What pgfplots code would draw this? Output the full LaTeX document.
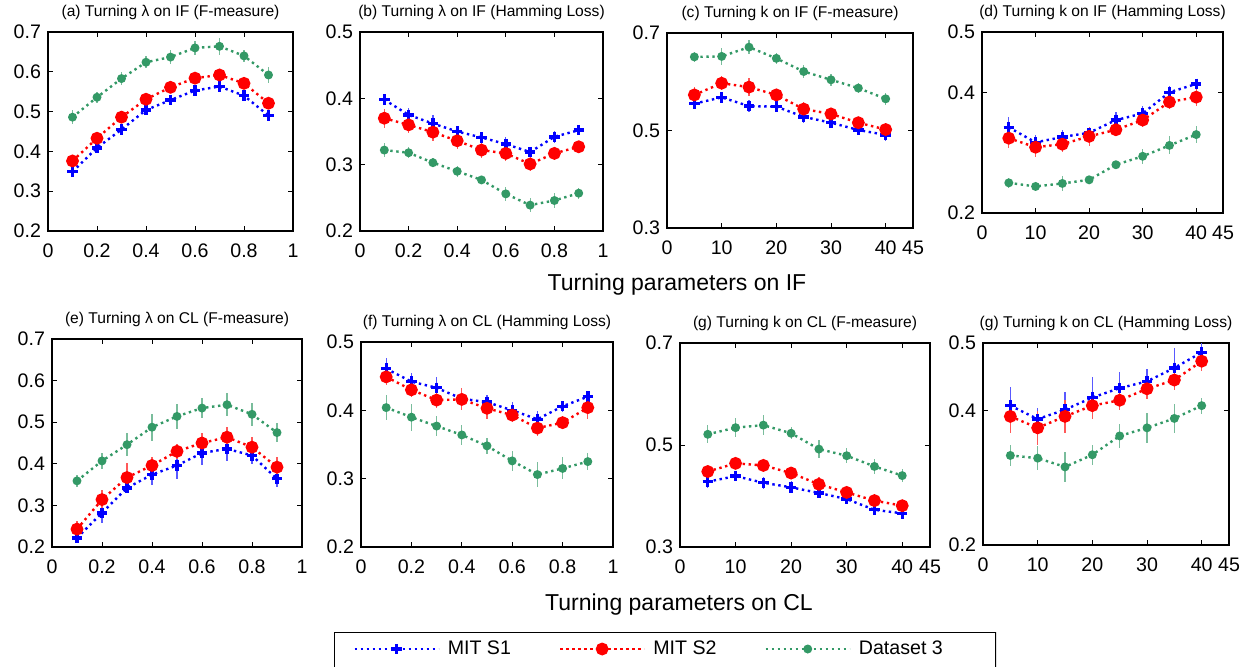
\documentclass[border=0pt]{standalone}
\usepackage{fontspec}
\setmainfont{Liberation Sans}
\usepackage{pgfplots}
\pgfplotsset{compat=1.18}
\definecolor{mblue}{HTML}{0000FF}
\definecolor{mred}{HTML}{FF0000}
\definecolor{mgreen}{HTML}{339966}

\pgfplotsset{
  every axis title/.style={at={(0.5,1)}, anchor=south, yshift=2.5pt,
    font=\fontsize{7.8}{9}\selectfont},
  panel/.style={scale only axis, anchor=south west,
    tick align=inside, major tick length=2.5pt,
    axis line style={line width=0.6pt}, every tick/.style={black, line width=0.5pt},
    ticklabel style={font=\fontsize{9.8}{11}\selectfont},
    xticklabel shift=3pt,
    /pgf/number format/assume math mode=true},
  lam/.style={xmin=0, xmax=1, xtick={0,0.2,0.4,0.6,0.8,1}},
  kk/.style={xmin=0, xmax=45, xtick={0,10,20,30,40,45}},
  s1/.style={color=mblue, line width=1.2pt, dash pattern=on 1.2pt off 1.8pt,
    mark=+, mark size=2.6pt, mark options={solid, line width=1.7pt}},
  s2/.style={color=mred, line width=1.2pt, dash pattern=on 1.2pt off 1.8pt,
    mark=*, mark size=2.6pt, mark options={solid}},
  s3/.style={color=mgreen, line width=1.2pt, dash pattern=on 1.2pt off 1.8pt,
    mark=*, mark size=1.6pt, mark options={solid}},
  eb/.style={error bars/.cd, y dir=both, y explicit, error mark=none,
    error bar style={solid, line width=0.6pt, #1!65!white}},
}

\begin{document}
\begin{tikzpicture}
\useasboundingbox (0,0) rectangle (622.5pt,333pt);

% (a)
\begin{axis}[panel, lam, at={(24pt,217.5pt)}, width=122.5pt, height=99.5pt,
  ymin=0.2, ymax=0.7, ytick={0.2,0.3,0.4,0.5,0.6,0.7},
  title={(a) Turning λ on IF (F-measure)}]
\addplot[s1, eb=mblue] table[row sep=\\, y error=e] {x y e\\
0.1 0.349 0.010\\ 0.2 0.409 0.012\\ 0.3 0.455 0.012\\ 0.4 0.504 0.012\\ 0.5 0.529 0.012\\
0.6 0.553 0.010\\ 0.7 0.563 0.012\\ 0.8 0.540 0.012\\ 0.9 0.490 0.012\\};
\addplot[s2, eb=mred] table[row sep=\\, y error=e] {x y e\\
0.1 0.376 0.012\\ 0.2 0.433 0.013\\ 0.3 0.486 0.014\\ 0.4 0.531 0.016\\ 0.5 0.561 0.014\\
0.6 0.584 0.015\\ 0.7 0.592 0.016\\ 0.8 0.571 0.014\\ 0.9 0.521 0.015\\};
\addplot[s3, eb=mgreen] table[row sep=\\, y error=e] {x y e\\
0.1 0.486 0.017\\ 0.2 0.536 0.014\\ 0.3 0.583 0.017\\ 0.4 0.624 0.015\\ 0.5 0.637 0.017\\
0.6 0.660 0.017\\ 0.7 0.664 0.022\\ 0.8 0.640 0.016\\ 0.9 0.592 0.020\\};
\end{axis}

% (b)
\begin{axis}[panel, lam, at={(180pt,217.5pt)}, width=121.5pt, height=99.5pt,
  ymin=0.2, ymax=0.5, ytick={0.2,0.3,0.4,0.5},
  title={(b) Turning λ on IF (Hamming Loss)}]
\addplot[s1, eb=mblue] table[row sep=\\, y error=e] {x y e\\
0.1 0.398 0.008\\ 0.2 0.375 0.010\\ 0.3 0.362 0.013\\ 0.4 0.350 0.009\\ 0.5 0.341 0.009\\
0.6 0.331 0.010\\ 0.7 0.319 0.008\\ 0.8 0.342 0.009\\ 0.9 0.352 0.008\\};
\addplot[s2, eb=mred] table[row sep=\\, y error=e] {x y e\\
0.1 0.370 0.014\\ 0.2 0.360 0.012\\ 0.3 0.349 0.014\\ 0.4 0.336 0.012\\ 0.5 0.322 0.012\\
0.6 0.317 0.012\\ 0.7 0.301 0.010\\ 0.8 0.317 0.010\\ 0.9 0.327 0.008\\};
\addplot[s3, eb=mgreen] table[row sep=\\, y error=e] {x y e\\
0.1 0.322 0.010\\ 0.2 0.318 0.008\\ 0.3 0.303 0.007\\ 0.4 0.290 0.008\\ 0.5 0.277 0.006\\
0.6 0.256 0.011\\ 0.7 0.239 0.011\\ 0.8 0.246 0.012\\ 0.9 0.257 0.008\\};
\end{axis}

% (c)
\begin{axis}[panel, kk, at={(333.5pt,219pt)}, width=123pt, height=97.5pt,
  ymin=0.3, ymax=0.7, ytick={0.3,0.5,0.7},
  title={(c) Turning k on IF (F-measure)}]
\addplot[s1, eb=mblue] table[row sep=\\, y error=e] {x y e\\
5 0.555 0.010\\ 10 0.568 0.010\\ 15 0.550 0.012\\ 20 0.549 0.010\\
25 0.528 0.012\\ 30 0.516 0.010\\ 35 0.501 0.010\\ 40 0.491 0.012\\};
\addplot[s2, eb=mred] table[row sep=\\, y error=e] {x y e\\
5 0.573 0.016\\ 10 0.597 0.014\\ 15 0.589 0.018\\ 20 0.573 0.012\\
25 0.544 0.014\\ 30 0.534 0.010\\ 35 0.516 0.012\\ 40 0.502 0.014\\};
\addplot[s3, eb=mgreen] table[row sep=\\, y error=e] {x y e\\
5 0.651 0.010\\ 10 0.652 0.018\\ 15 0.671 0.014\\ 20 0.648 0.012\\
25 0.621 0.014\\ 30 0.604 0.012\\ 35 0.587 0.010\\ 40 0.565 0.012\\};
\end{axis}

% (d)
\begin{axis}[panel, kk, at={(491pt,226.5pt)}, width=120.5pt, height=90.5pt,
  ymin=0.2, ymax=0.5, ytick={0.2,0.4,0.5},
  title={(d) Turning k on IF (Hamming Loss)}]
\addplot[s1, eb=mblue] table[row sep=\\, y error=e] {x y e\\
5 0.342 0.017\\ 10 0.317 0.013\\ 15 0.326 0.012\\ 20 0.333 0.010\\
25 0.354 0.013\\ 30 0.365 0.013\\ 35 0.400 0.010\\ 40 0.414 0.008\\};
\addplot[s2, eb=mred] table[row sep=\\, y error=e] {x y e\\
5 0.324 0.017\\ 10 0.309 0.016\\ 15 0.314 0.013\\ 20 0.327 0.016\\
25 0.338 0.010\\ 30 0.354 0.012\\ 35 0.384 0.012\\ 40 0.392 0.015\\};
\addplot[s3, eb=mgreen] table[row sep=\\, y error=e] {x y e\\
5 0.250 0.008\\ 10 0.244 0.007\\ 15 0.249 0.013\\ 20 0.255 0.007\\
25 0.280 0.006\\ 30 0.294 0.012\\ 35 0.312 0.015\\ 40 0.330 0.014\\};
\end{axis}

% (e)
\begin{axis}[panel, lam, at={(26pt,59.5pt)}, width=125pt, height=104pt,
  ymin=0.2, ymax=0.7, ytick={0.2,0.3,0.4,0.5,0.6,0.7},
  title={(e) Turning λ on CL (F-measure)}]
\addplot[s1, eb=mblue] table[row sep=\\, y error=e] {x y e\\
0.1 0.222 0.010\\ 0.2 0.282 0.025\\ 0.3 0.342 0.012\\ 0.4 0.374 0.024\\ 0.5 0.396 0.032\\
0.6 0.426 0.030\\ 0.7 0.436 0.030\\ 0.8 0.420 0.020\\ 0.9 0.364 0.020\\};
\addplot[s2, eb=mred] table[row sep=\\, y error=e] {x y e\\
0.1 0.243 0.020\\ 0.2 0.314 0.024\\ 0.3 0.367 0.034\\ 0.4 0.396 0.020\\ 0.5 0.430 0.018\\
0.6 0.450 0.024\\ 0.7 0.464 0.025\\ 0.8 0.440 0.025\\ 0.9 0.392 0.025\\};
\addplot[s3, eb=mgreen] table[row sep=\\, y error=e] {x y e\\
0.1 0.359 0.015\\ 0.2 0.407 0.020\\ 0.3 0.446 0.028\\ 0.4 0.488 0.032\\ 0.5 0.514 0.030\\
0.6 0.534 0.025\\ 0.7 0.542 0.028\\ 0.8 0.519 0.028\\ 0.9 0.475 0.022\\};
\end{axis}

% (f)
\begin{axis}[panel, lam, at={(180.5pt,59.5pt)}, width=126pt, height=102.5pt,
  ymin=0.2, ymax=0.5, ytick={0.2,0.3,0.4,0.5},
  title={(f) Turning λ on CL (Hamming Loss)}]
\addplot[s1, eb=mblue] table[row sep=\\, y error=e] {x y e\\
0.1 0.461 0.016\\ 0.2 0.442 0.012\\ 0.3 0.433 0.016\\ 0.4 0.417 0.016\\ 0.5 0.412 0.010\\
0.6 0.400 0.012\\ 0.7 0.387 0.012\\ 0.8 0.406 0.008\\ 0.9 0.420 0.008\\};
\addplot[s2, eb=mred] table[row sep=\\, y error=e] {x y e\\
0.1 0.449 0.012\\ 0.2 0.430 0.010\\ 0.3 0.415 0.012\\ 0.4 0.416 0.016\\ 0.5 0.403 0.015\\
0.6 0.393 0.010\\ 0.7 0.374 0.012\\ 0.8 0.382 0.010\\ 0.9 0.404 0.016\\};
\addplot[s3, eb=mgreen] table[row sep=\\, y error=e] {x y e\\
0.1 0.404 0.018\\ 0.2 0.390 0.020\\ 0.3 0.377 0.015\\ 0.4 0.364 0.014\\ 0.5 0.348 0.012\\
0.6 0.326 0.015\\ 0.7 0.306 0.018\\ 0.8 0.315 0.016\\ 0.9 0.325 0.013\\};
\end{axis}

% (g)
\begin{axis}[panel, kk, at={(340pt,59.5pt)}, width=125pt, height=102pt,
  ymin=0.3, ymax=0.7, ytick={0.3,0.5,0.7},
  title={(g) Turning k on CL (F-measure)}]
\addplot[s1, eb=mblue] table[row sep=\\, y error=e] {x y e\\
5 0.428 0.012\\ 10 0.439 0.010\\ 15 0.426 0.012\\ 20 0.417 0.012\\
25 0.406 0.010\\ 30 0.394 0.010\\ 35 0.373 0.010\\ 40 0.366 0.008\\};
\addplot[s2, eb=mred] table[row sep=\\, y error=e] {x y e\\
5 0.448 0.012\\ 10 0.464 0.012\\ 15 0.460 0.012\\ 20 0.445 0.012\\
25 0.423 0.014\\ 30 0.407 0.010\\ 35 0.391 0.010\\ 40 0.381 0.010\\};
\addplot[s3, eb=mgreen] table[row sep=\\, y error=e] {x y e\\
5 0.521 0.018\\ 10 0.534 0.018\\ 15 0.539 0.020\\ 20 0.523 0.012\\
25 0.492 0.018\\ 30 0.479 0.015\\ 35 0.458 0.015\\ 40 0.440 0.012\\};
\end{axis}

% (h)
\begin{axis}[panel, kk, at={(491.5pt,60.5pt)}, width=123pt, height=101pt,
  ymin=0.2, ymax=0.5, ytick={0.2,0.4,0.5},
  title={(g) Turning k on CL (Hamming Loss)}]
\addplot[s1, eb=mblue] table[row sep=\\, y error=e] {x y e\\
5 0.407 0.028\\ 10 0.387 0.016\\ 15 0.401 0.026\\ 20 0.419 0.030\\
25 0.433 0.024\\ 30 0.443 0.018\\ 35 0.463 0.030\\ 40 0.486 0.020\\};
\addplot[s2, eb=mred] table[row sep=\\, y error=e] {x y e\\
5 0.391 0.025\\ 10 0.374 0.025\\ 15 0.391 0.025\\ 20 0.407 0.020\\
25 0.415 0.015\\ 30 0.432 0.015\\ 35 0.445 0.015\\ 40 0.473 0.015\\};
\addplot[s3, eb=mgreen] table[row sep=\\, y error=e] {x y e\\
5 0.333 0.015\\ 10 0.329 0.018\\ 15 0.316 0.022\\ 20 0.334 0.015\\
25 0.362 0.018\\ 30 0.374 0.022\\ 35 0.388 0.022\\ 40 0.407 0.012\\};
\end{axis}

\node[font=\fontsize{11.5}{13}\selectfont] at (338.5pt,190.5pt) {Turning parameters on IF};
\node[font=\fontsize{11.5}{13}\selectfont] at (339.5pt,30.5pt) {Turning parameters on CL};

% legend
\begin{axis}[hide axis, scale only axis, anchor=south west, at={(167pt,-3pt)},
  width=331pt, height=20pt, xmin=0, xmax=1, ymin=0, ymax=1,
  legend columns=3,
  legend image code/.code={\draw[mark repeat=2, mark phase=2, #1]
    plot coordinates {(0pt,0pt) (21pt,0pt) (42pt,0pt)};},
  legend style={at={(0,0.575)}, anchor=west, xshift=9.5pt, draw=none, fill=none,
    inner sep=0pt, font=\fontsize{9.8}{11}\selectfont, column sep=2pt,
    /tikz/every even column/.append style={column sep=22pt}}]
\addlegendimage{s1}
\addlegendentry{MIT S1}
\addlegendimage{s2}
\addlegendentry{MIT S2}
\addlegendimage{s3}
\addlegendentry{Dataset 3}
\draw[line width=0.6pt] (rel axis cs:0,0) rectangle (rel axis cs:1,1);
\end{axis}
\end{tikzpicture}
\end{document}
